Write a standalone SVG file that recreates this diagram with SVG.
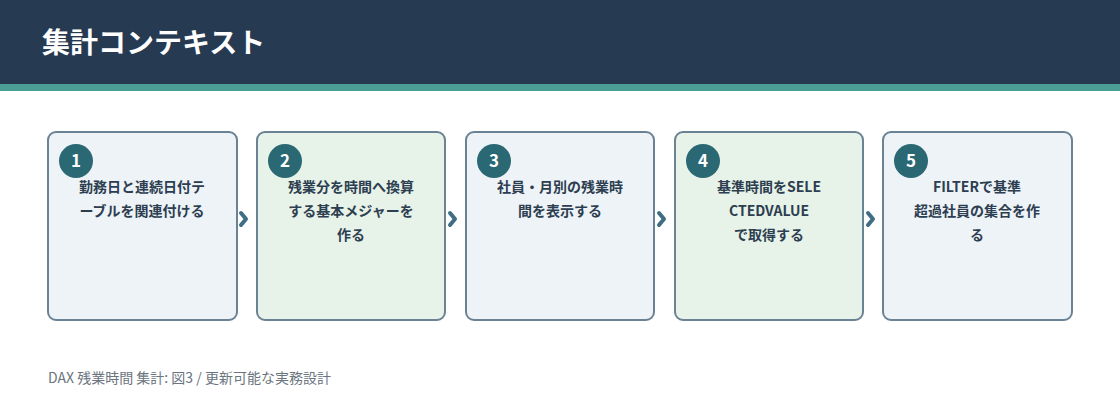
<svg xmlns="http://www.w3.org/2000/svg" width="1120" height="420" viewBox="0 0 1120 420">
<defs><style>
.t{font-family:"Noto Sans CJK JP","Noto Sans",sans-serif;}
.box{stroke:#6b8294;stroke-width:2;}
.a{fill:#eef3f8;} .b{fill:#e7f2e8;}
.num{fill:#2a6873;}
.nt{fill:#fff;font-size:17px;font-weight:700;text-anchor:middle;}
.lb{fill:#2c3e50;font-size:14px;font-weight:700;text-anchor:middle;}
.arr{fill:none;stroke:#3f6e84;stroke-width:4;stroke-linecap:round;stroke-linejoin:round;}
</style></defs>
<rect width="1120" height="420" fill="#fff"/>
<rect width="1120" height="84" fill="#263a52"/>
<rect y="84" width="1120" height="7" fill="#4a9e96"/>
<text class="t" x="42" y="53" font-size="28" font-weight="700" fill="#fff">集計コンテキスト</text>
<g id="connectors">
<path class="arr" d="M241,213 L246,219 L241,225"/>
<path class="arr" d="M450,213 L455,219 L450,225"/>
<path class="arr" d="M659,213 L664,219 L659,225"/>
<path class="arr" d="M868,213 L873,219 L868,225"/>
</g>
<g id="n1"><rect class="box a" x="48" y="132" width="189" height="188" rx="8"/><circle class="num" cx="76" cy="161" r="17"/><text class="t nt" x="76" y="167">1</text>
<text class="t lb" x="142" y="192">勤務日と連続日付テ</text><text class="t lb" x="142" y="216">ーブルを関連付ける</text></g>
<g id="n2"><rect class="box b" x="257" y="132" width="188" height="188" rx="8"/><circle class="num" cx="285" cy="161" r="17"/><text class="t nt" x="285" y="167">2</text>
<text class="t lb" x="351" y="192">残業分を時間へ換算</text><text class="t lb" x="351" y="216">する基本メジャーを</text><text class="t lb" x="351" y="240">作る</text></g>
<g id="n3"><rect class="box a" x="466" y="132" width="188" height="188" rx="8"/><circle class="num" cx="494" cy="161" r="17"/><text class="t nt" x="494" y="167">3</text>
<text class="t lb" x="560" y="192">社員・月別の残業時</text><text class="t lb" x="560" y="216">間を表示する</text></g>
<g id="n4"><rect class="box b" x="675" y="132" width="188" height="188" rx="8"/><circle class="num" cx="703" cy="161" r="17"/><text class="t nt" x="703" y="167">4</text>
<text class="t lb" x="769" y="192">基準時間をSELE</text><text class="t lb" x="769" y="216">CTEDVALUE</text><text class="t lb" x="769" y="240">で取得する</text></g>
<g id="n5"><rect class="box a" x="883" y="132" width="189" height="188" rx="8"/><circle class="num" cx="911" cy="161" r="17"/><text class="t nt" x="911" y="167">5</text>
<text class="t lb" x="977" y="192">FILTERで基準</text><text class="t lb" x="977" y="216">超過社員の集合を作</text><text class="t lb" x="977" y="240">る</text></g>
<text class="t" x="48" y="383" font-size="14" fill="#6b7580">DAX 残業時間 集計: 図3 / 更新可能な実務設計</text>
</svg>
